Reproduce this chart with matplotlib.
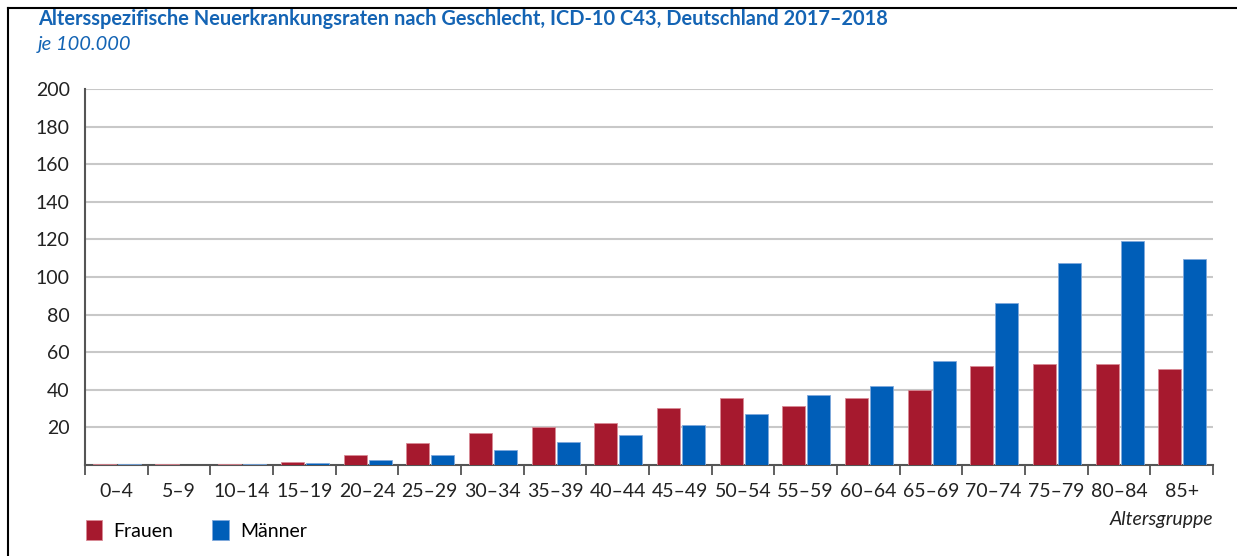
import numpy as np
import matplotlib.pyplot as plt
from matplotlib.lines import Line2D

plt.rcParams['font.family'] = ['Lato', 'DejaVu Sans']

# Altersgruppen und Raten je 100.000
altersgruppen = ['0–4', '5–9', '10–14', '15–19', '20–24', '25–29', '30–34', '35–39', '40–44',
                 '45–49', '50–54', '55–59', '60–64', '65–69', '70–74', '75–79', '80–84', '85+']
frauen = [0.5, 0.5, 0.5, 1.6, 5.3, 11.5, 17.2, 20.0, 22.3,
          30.3, 35.5, 31.2, 35.5, 40.0, 52.4, 53.9, 53.9, 51.3]
maenner = [0.5, 0.1, 0.5, 1.0, 2.7, 5.3, 8.0, 12.2, 16.0,
           21.1, 27.0, 37.0, 41.8, 55.5, 86.4, 107.7, 118.9, 109.5]
y_ticks = [20, 40, 60, 80, 100, 120, 140, 160, 180, 200]

rot = '#A6192E'
blau = '#005EB8'
titel_blau = '#1464B4'

fig = plt.figure(figsize=(12.37, 5.56), dpi=100)
W, H = 1237, 556
ax = fig.add_axes([85 / W, 1 - 465 / H, (1213 - 85) / W, (465 - 89) / H])

x = np.arange(len(altersgruppen))
b1 = ax.bar(x - 0.19, frauen, width=0.37, color=rot, edgecolor='#d98a95', linewidth=0.6, zorder=3, label='Frauen')
b2 = ax.bar(x + 0.21, maenner, width=0.37, color=blau, edgecolor='#7fa9dc', linewidth=0.6, zorder=3, label='Männer')

ax.set_xlim(-0.5, len(altersgruppen) - 0.5)
ax.set_ylim(0, 200)
ax.set_yticks(y_ticks)
ax.set_yticklabels([str(v) for v in y_ticks], fontsize=14, color='#222222')
ax.tick_params(axis='y', length=0, pad=11)
ax.grid(axis='y', color='#c8c8c8', linewidth=1.5, zorder=0)

# x-Achse: Ticks zwischen den Gruppen, Beschriftung in der Mitte
ax.set_xticks(np.arange(len(altersgruppen) + 1) - 0.5)
ax.set_xticklabels([])
ax.set_xticks(x, minor=True)
ax.set_xticklabels(altersgruppen, minor=True, fontsize=14, color='#222222')
ax.tick_params(axis='x', which='major', length=7, width=1.2, color='#444444', direction='out')
ax.tick_params(axis='x', which='minor', length=0, pad=13)

for s in ['top', 'right']:
    ax.spines[s].set_visible(False)
for s in ['left', 'bottom']:
    ax.spines[s].set_color('#555555')
    ax.spines[s].set_linewidth(1.5)

fig.text(38 / W, 1 - 19 / H, 'Altersspezifische Neuerkrankungsraten nach Geschlecht, ICD-10 C43, Deutschland 2017–2018',
         fontsize=14.4, fontweight='bold', color=titel_blau, va='center', ha='left')
fig.text(38 / W, 1 - 45 / H, 'je 100.000', fontsize=14.5, style='italic', color=titel_blau, va='center', ha='left')
fig.text(1213 / W, 1 - 520 / H, 'Altersgruppe', fontsize=14, style='italic', color='#222222', va='center', ha='right')

fig.legend(handles=[b1, b2], loc='center left', bbox_to_anchor=(68 / W, 1 - 530 / H), ncol=2, frameon=False,
           fontsize=14, handlelength=0.85, handleheight=1.24, handletextpad=0.6, columnspacing=2.0)

# Rahmen oben und links
fig.add_artist(Line2D([8 / W, 1], [1 - 8 / H, 1 - 8 / H], color='black', linewidth=1.5, transform=fig.transFigure))
fig.add_artist(Line2D([8 / W, 8 / W], [0, 1 - 8 / H], color='black', linewidth=1.5, transform=fig.transFigure))

fig.savefig('out.png', dpi=100)
